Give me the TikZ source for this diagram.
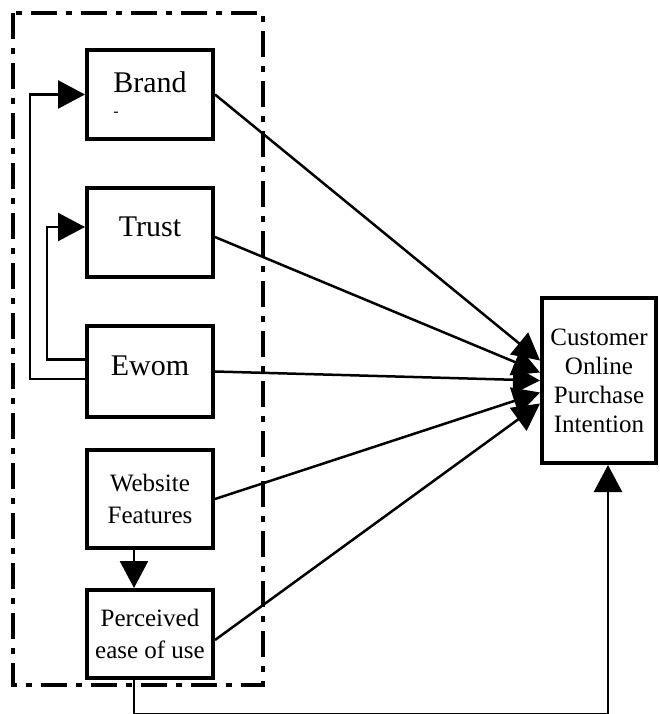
\documentclass[tikz,border=0pt]{standalone}
\usepackage{fontspec}
\setmainfont{Liberation Serif}
\usetikzlibrary{arrows.meta,calc}

\tikzset{
  box/.style={draw, line width=4pt, minimum width=126pt, inner sep=0pt, align=center},
  big/.style={font=\fontsize{30}{36}\selectfont},
  small/.style={font=\fontsize{25}{32}\selectfont},
  flow/.style={line width=2.5pt, -{Triangle[length=27pt,width=28pt]}},
  link/.style={line width=2.5pt}
}

\begin{document}
\begin{tikzpicture}[x=1pt, y=-1pt]
\useasboundingbox (0,0) rectangle (659,714);

\draw[line width=4pt, dash pattern=on 26pt off 9pt on 6pt off 9pt] (13,13) rectangle (263,685);

\node[box, big, minimum height=89pt, align=left] (brand) at (150,94.5) {Brand\\[-12pt]{\fontsize{16}{16}\selectfont -}};
\node[box, big, minimum height=89pt, text depth=12pt] (trust) at (150,232.5) {Trust};
\node[box, big, minimum height=91pt, text depth=12pt] (ewom) at (150,371.5) {Ewom};
\node[box, small, minimum height=98pt] (website) at (150,499) {Website\\Features};
\node[box, small, minimum height=88pt] (perceived) at (150,634) {Perceived\\ease of use};
\node[box, small, minimum width=114pt, minimum height=165pt, font=\fontsize{25}{29}\selectfont] (intention) at (599,380.5) {Customer\\Online\\Purchase\\Intention};

\draw[flow] (brand.east) -- ($(intention.west)+(0,-20)$);
\draw[flow] ([yshift=-4.5pt]trust.east) -- ($(intention.west)+(0,-8)$);
\draw[flow] (ewom.east) -- (intention.west);
\draw[flow] (website.east) -- ($(intention.west)+(0,12)$);
\draw[flow] ([yshift=-6pt]perceived.east) -- ($(intention.west)+(0,23)$);

\draw[flow] ([yshift=-7.5pt]ewom.west) -- ++(-55,0) |- (brand.west);
\draw[flow] ([yshift=12pt]ewom.west) -- ++(-38,0) |- ([yshift=5.5pt]trust.west);

\draw[flow] ([xshift=-16pt]website.south) -- ([xshift=-16pt]perceived.north);
\draw[flow] ([xshift=-16pt]perceived.south) -- ++(0,34) -| ([xshift=9pt]intention.south);
\end{tikzpicture}
\end{document}
